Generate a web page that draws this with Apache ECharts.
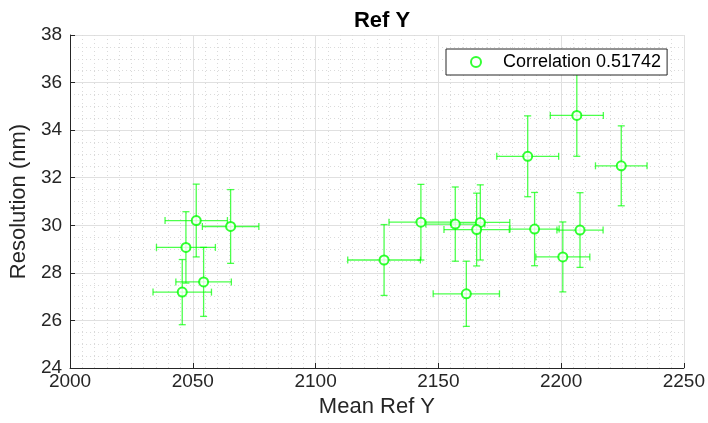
<!DOCTYPE html>
<html>
<head>
<meta charset="utf-8">
<script src="https://cdn.jsdelivr.net/npm/echarts@6/dist/echarts.min.js"></script>
<style>
html,body{margin:0;padding:0;background:#fff;}
#chart{width:708px;height:423px;}
</style>
</head>
<body>
<div id="chart"></div>
<script>
const meanRefY   = [2051.4, 2065.4, 2047.2, 2054.4, 2045.7, 2127.9, 2142.9, 2156.9, 2167.1, 2165.6, 2161.4, 2206.4, 2186.4, 2224.5, 2189.2, 2207.7, 2200.7];
const resolution = [30.20, 29.95, 29.07, 27.62, 27.19, 28.54, 30.13, 30.05, 30.12, 29.82, 27.12, 34.62, 32.90, 32.50, 29.84, 29.80, 28.67];
const xErr       = [12.7, 11.5, 12.0, 11.3, 11.9, 14.8, 13.0, 12.0, 12.0, 13.3, 13.5, 10.8, 12.6, 10.5, 10.0, 9.4, 11.0];
const yErr       = [1.53, 1.55, 1.50, 1.45, 1.37, 1.49, 1.59, 1.56, 1.58, 1.53, 1.37, 1.72, 1.70, 1.68, 1.54, 1.57, 1.47];
const legendLabel = 'Correlation 0.51742';

const chart = echarts.init(document.getElementById('chart'), null, {renderer: 'canvas'});
const font = '"Liberation Sans", Arial, Helvetica, sans-serif';
const errColor = 'rgba(0,255,0,0.7)';
const capHalf = 3.5;

const errData = meanRefY.map((v, i) => [v, resolution[i], xErr[i], yErr[i]]);
const ptData = meanRefY.map((v, i) => [v, resolution[i]]);

function renderErr(params, api) {
  const x = api.value(0), y = api.value(1), ex = api.value(2), ey = api.value(3);
  const top = api.coord([x, y + ey]);
  const bot = api.coord([x, y - ey]);
  const lft = api.coord([x - ex, y]);
  const rgt = api.coord([x + ex, y]);
  const st = {stroke: errColor, lineWidth: 1.3, fill: null};
  const line = (x1, y1, x2, y2) => ({type: 'line', shape: {x1, y1, x2, y2}, style: st});
  return {
    type: 'group',
    children: [
      line(top[0], top[1], bot[0], bot[1]),
      line(top[0] - capHalf, top[1], top[0] + capHalf, top[1]),
      line(bot[0] - capHalf, bot[1], bot[0] + capHalf, bot[1]),
      line(lft[0], lft[1], rgt[0], rgt[1]),
      line(lft[0], lft[1] - capHalf, lft[0], lft[1] + capHalf),
      line(rgt[0], rgt[1] - capHalf, rgt[0], rgt[1] + capHalf)
    ]
  };
}

chart.setOption({
  animation: false,
  backgroundColor: '#fff',
  title: {
    text: 'Ref Y', left: 377, top: 5, textAlign: 'center',
    textStyle: {fontFamily: font, fontSize: 22, fontWeight: 'bold', color: '#000'}
  },
  legend: {
    data: [legendLabel],
    left: 446, top: 49,
    padding: [4, 6, 4, 24],
    itemWidth: 10, itemHeight: 10, itemGap: 10,
    borderColor: '#262626', borderWidth: 1, backgroundColor: '#fff',
    textStyle: {fontFamily: font, fontSize: 18, color: '#000', padding: [0, 0, 0, 17]}
  },
  grid: {left: 70, right: 24, top: 35, bottom: 53, containLabel: false},
  xAxis: {
    type: 'value', min: 2000, max: 2250, interval: 50,
    name: 'Mean Ref Y', nameLocation: 'middle', nameGap: 28,
    nameTextStyle: {fontFamily: font, fontSize: 22, color: '#262626'},
    axisLine: {show: true, lineStyle: {color: '#262626', width: 1}},
    axisTick: {show: true, inside: true, length: 5, lineStyle: {color: '#262626'}},
    axisLabel: {fontFamily: font, fontSize: 19, color: '#262626', margin: 4, formatter: v => String(v)},
    splitLine: {show: true, lineStyle: {color: '#e0e0e0', width: 1}},
    minorTick: {show: false, splitNumber: 10},
    minorSplitLine: {show: true, lineStyle: {color: '#dadada', type: [1, 3], width: 1}}
  },
  yAxis: {
    type: 'value', min: 24, max: 38, interval: 2,
    name: 'Resolution (nm)', nameLocation: 'middle', nameGap: 40,
    nameTextStyle: {fontFamily: font, fontSize: 22, color: '#262626'},
    axisLine: {show: true, lineStyle: {color: '#262626', width: 1}},
    axisTick: {show: true, inside: true, length: 5, lineStyle: {color: '#262626'}},
    axisLabel: {fontFamily: font, fontSize: 19, color: '#262626', margin: 8},
    splitLine: {show: true, lineStyle: {color: '#e0e0e0', width: 1}},
    minorTick: {show: false, splitNumber: 4},
    minorSplitLine: {show: true, lineStyle: {color: '#dadada', type: [1, 3], width: 1}}
  },
  series: [
    {
      type: 'custom', name: 'err', renderItem: renderErr, data: errData,
      encode: {x: 0, y: 1}, silent: true, z: 2
    },
    {
      type: 'scatter', name: legendLabel, data: ptData,
      symbol: 'emptyCircle', symbolSize: 9,
      itemStyle: {color: '#00ff00', borderColor: '#00ff00', borderWidth: 1.9},
      z: 3
    }
  ]
});
</script>
</body>
</html>
